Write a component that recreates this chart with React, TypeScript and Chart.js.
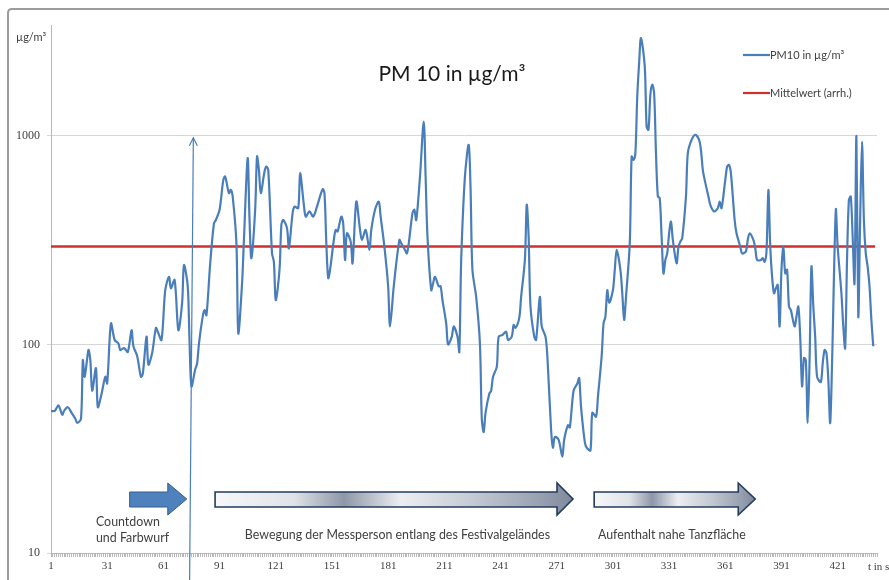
import React, { useEffect, useRef } from 'react';
import { Chart, registerables } from 'chart.js';

Chart.register(...registerables);

// ---- data ----
const chartTitle = 'PM 10 in µg/m³';
const seriesName = 'PM10 in µg/m³';
const meanName = 'Mittelwert (arrh.)';
const yUnit = 'µg/m³';
const xUnit = 't in s';

const seconds = [
  1, 3, 5, 7, 8, 10, 12, 14, 15, 17,
  18, 19, 21, 22, 23, 25, 26, 28, 30, 31,
  33, 35, 37, 38, 40, 42, 44, 45, 47, 49,
  50, 52, 53, 55, 57, 58, 60, 62, 64, 65,
  67, 69, 71, 72, 74, 75, 76, 78, 79, 80,
  82, 83, 84, 86, 88, 89, 91, 93, 94, 96,
  97, 98, 100, 101, 103, 104, 106, 107, 108, 110,
  111, 112, 113, 115, 116, 117, 119, 120, 121, 123,
  124, 125, 127, 128, 130, 131, 133, 134, 136, 137,
  139, 141, 143, 146, 147, 148, 149, 150, 152, 153,
  154, 156, 157, 158, 159, 161, 162, 164, 166, 167,
  169, 171, 172, 174, 176, 177, 179, 181, 182, 184,
  187, 188, 190, 191, 192, 194, 195, 196, 198, 200,
  201, 202, 204, 205, 206, 208, 209, 210, 212, 213,
  215, 216, 218, 219, 220, 222, 224, 225, 226, 228,
  230, 231, 232, 233, 235, 236, 237, 239, 240, 242,
  244, 245, 247, 248, 249, 251, 252, 254, 255, 256,
  257, 259, 260, 262, 263, 265, 266, 268, 269, 270,
  272, 274, 275, 277, 278, 280, 282, 283, 284, 286,
  287, 289, 290, 292, 293, 295, 296, 297, 298, 299,
  301, 302, 303, 305, 306, 307, 308, 310, 311, 312,
  313, 314, 315, 316, 318, 319, 320, 321, 322, 323,
  324, 325, 326, 327, 328, 329, 330, 331, 332, 333,
  335, 336, 337, 338, 340, 341, 343, 345, 347, 348,
  349, 350, 352, 353, 355, 357, 358, 359, 361, 362,
  363, 364, 366, 367, 369, 370, 372, 373, 374, 376,
  377, 378, 380, 381, 382, 383, 384, 385, 386, 387,
  388, 389, 390, 391, 392, 393, 394, 395, 396, 398,
  399, 400, 401, 402, 403, 404, 405, 406, 407, 408,
  409, 410, 412, 413, 414, 415, 416, 417, 418, 420,
  421, 423, 424, 425, 426, 427, 428, 429, 430, 431,
  432, 433, 434, 435, 436, 437, 438, 439, 440,
];

const pm10 = [
  48, 48, 51, 46, 48, 50, 47, 44, 42, 44,
  84, 70, 94, 84, 60, 77, 50, 58, 70, 65,
  126, 105, 101, 94, 96, 92, 117, 98, 88, 70,
  72, 109, 80, 91, 120, 115, 105, 182, 211, 186,
  204, 117, 158, 240, 190, 101, 63, 76, 81, 101,
  136, 146, 138, 245, 381, 395, 442, 615, 638, 531,
  551, 512, 305, 113, 196, 317, 782, 395, 259, 442,
  796, 687, 531, 675, 713, 687, 273, 249, 163, 228,
  374, 395, 361, 289, 426, 458, 450, 662, 467, 410,
  434, 410, 458, 555, 531, 305, 208, 228, 317, 354,
  348, 410, 381, 254, 341, 311, 245, 484, 354, 317,
  354, 284, 354, 442, 484, 410, 294, 190, 122, 190,
  317, 305, 284, 273, 305, 426, 442, 395, 638, 1171,
  638, 329, 182, 196, 211, 190, 190, 163, 126, 100,
  109, 122, 109, 92, 254, 638, 906, 561, 228, 169,
  101, 44, 38, 47, 58, 60, 70, 78, 109, 111,
  115, 105, 109, 124, 120, 134, 169, 254, 467, 329,
  152, 109, 105, 169, 122, 109, 88, 39, 32, 36,
  35, 29, 35, 41, 40, 60, 65, 69, 50, 34,
  32, 31, 47, 45, 56, 88, 126, 136, 182, 158,
  182, 228, 284, 228, 176, 131, 169, 305, 796, 767,
  826, 1545, 2234, 2944, 2153, 1108, 1069, 1574, 1759, 1603,
  826, 512, 503, 329, 219, 254, 273, 341, 388, 317,
  245, 294, 311, 323, 512, 826, 957, 1011, 957, 857,
  687, 615, 512, 467, 434, 450, 484, 450, 615, 713,
  726, 662, 395, 341, 294, 273, 279, 317, 341, 317,
  289, 254, 254, 259, 249, 279, 551, 294, 211, 176,
  186, 193, 122, 228, 294, 219, 228, 152, 146, 122,
  136, 152, 109, 63, 86, 84, 42, 84, 236, 152,
  109, 70, 66, 81, 94, 91, 68, 42, 81, 442,
  294, 176, 122, 96, 254, 493, 512, 329, 196, 997,
  136, 395, 939, 395, 273, 236, 190, 131, 98,
];

const meanValue = 295;
const meanSpan = [1, 441];

const xLabelValues = [1, 31, 61, 91, 121, 151, 181, 211, 241, 271, 301, 331, 361, 391, 421];
const xTickCount = 442;
const yTickValues = [10, 100, 1000];

const phaseLabels = {
  countdown: ['Countdown', 'und Farbwurf'],
  walk: 'Bewegung der Messperson entlang des Festivalgeländes',
  dance: 'Aufenthalt nahe Tanzfläche',
};

const BLUE = '#4a7ebb';
const RED = '#d0302c';
const TEXT = '#404040';

function arrowPath(ctx: CanvasRenderingContext2D, x0: number, x1: number, headLen: number, sTop: number, sBot: number, hTop: number, hBot: number) {
  const mid = (hTop + hBot) / 2;
  ctx.beginPath();
  ctx.moveTo(x0, sTop);
  ctx.lineTo(x1 - headLen, sTop);
  ctx.lineTo(x1 - headLen, hTop);
  ctx.lineTo(x1, mid);
  ctx.lineTo(x1 - headLen, hBot);
  ctx.lineTo(x1 - headLen, sBot);
  ctx.lineTo(x0, sBot);
  ctx.closePath();
}

const decorPlugin = {
  id: 'decor',
  afterDraw(chart: any) {
    const { ctx, chartArea } = chart;
    const xs = chart.scales.x;
    const ys = chart.scales.y;
    const bottom = chartArea.bottom;
    ctx.save();

    // outer frame
    ctx.strokeStyle = '#9c9c9c';
    ctx.lineWidth = 2;
    ctx.beginPath();
    ctx.moveTo(8, 600);
    ctx.lineTo(8, 13);
    ctx.quadraticCurveTo(8, 9, 12, 9);
    ctx.lineTo(900, 9);
    ctx.stroke();

    // y unit
    ctx.fillStyle = TEXT;
    ctx.textBaseline = 'middle';
    ctx.textAlign = 'left';
    ctx.font = '11px Lato';
    ctx.fillText(yUnit, 16, 37);

    // title
    ctx.font = '21px Lato';
    ctx.textAlign = 'center';
    ctx.fillStyle = '#1a1a1a';
    ctx.fillText(chartTitle, 452, 74);

    // legend
    ctx.lineWidth = 2.2;
    ctx.strokeStyle = BLUE;
    ctx.beginPath();
    ctx.moveTo(743, 55);
    ctx.lineTo(770, 55);
    ctx.stroke();
    ctx.strokeStyle = RED;
    ctx.beginPath();
    ctx.moveTo(743, 93);
    ctx.lineTo(770, 93);
    ctx.stroke();
    ctx.font = '11px Lato';
    ctx.textAlign = 'left';
    ctx.fillStyle = TEXT;
    ctx.fillText(seriesName, 770, 55);
    ctx.fillText(meanName, 770, 93);

    // vertical marker arrow at start of colour throw
    const vxBot = xs.getPixelForValue(75);
    const vxTop = xs.getPixelForValue(77);
    const vyTop = ys.getPixelForValue(1000) + 2;
    ctx.strokeStyle = BLUE;
    ctx.lineWidth = 1.2;
    ctx.beginPath();
    ctx.moveTo(vxBot, 580);
    ctx.lineTo(vxTop, vyTop);
    ctx.stroke();
    ctx.beginPath();
    ctx.moveTo(vxTop - 4, vyTop + 8);
    ctx.lineTo(vxTop, vyTop);
    ctx.lineTo(vxTop + 4, vyTop + 8);
    ctx.stroke();

    // phase arrows
    const sTop = bottom - 61;
    const sBot = bottom - 46;
    const hTop = bottom - 70;
    const hBot = bottom - 38;

    // solid blue arrow
    arrowPath(ctx, xs.getPixelForValue(43), xs.getPixelForValue(73.5), 19, sTop, sBot, hTop, hBot);
    ctx.fillStyle = '#4f81bd';
    ctx.fill();
    ctx.strokeStyle = '#385d8a';
    ctx.lineWidth = 1;
    ctx.stroke();

    const metal = (a: number, b: number, head: number) => {
      const g = ctx.createLinearGradient(a, 0, b, 0);
      g.addColorStop(0, '#f7f8fa');
      g.addColorStop(0.22, '#dfe2e7');
      g.addColorStop(0.36, '#8e97a8');
      g.addColorStop(0.52, '#eceef2');
      g.addColorStop(0.72, '#c5cad3');
      g.addColorStop(0.9, '#9aa3b2');
      g.addColorStop(1, '#7f899b');
      arrowPath(ctx, a, b, head, sTop, sBot, hTop, hBot);
      ctx.fillStyle = g;
      ctx.fill();
      ctx.strokeStyle = '#233c5e';
      ctx.lineWidth = 1.6;
      ctx.stroke();
    };
    metal(xs.getPixelForValue(88.6), xs.getPixelForValue(279.7), 16);
    metal(xs.getPixelForValue(291), xs.getPixelForValue(377), 17);

    // phase labels
    ctx.fillStyle = TEXT;
    ctx.font = '12.4px Lato';
    ctx.textAlign = 'left';
    ctx.fillText(phaseLabels.countdown[0], xs.getPixelForValue(25), bottom - 31);
    ctx.fillText(phaseLabels.countdown[1], xs.getPixelForValue(25), bottom - 15);
    ctx.fillText(phaseLabels.walk, xs.getPixelForValue(104.5), bottom - 18);
    ctx.fillText(phaseLabels.dance, xs.getPixelForValue(293), bottom - 18);

    // x unit
    ctx.font = '11px "Liberation Serif"';
    ctx.fillText(xUnit, 868, 567);

    ctx.restore();
  },
};

export default function App() {
  const ref = useRef<HTMLCanvasElement | null>(null);

  useEffect(() => {
    if (!ref.current) return;
    const chart = new Chart(ref.current, {
      type: 'line',
      data: {
        datasets: [
          {
            label: seriesName,
            data: seconds.map((s, i) => ({ x: s, y: pm10[i] })),
            borderColor: BLUE,
            borderWidth: 2.2,
            pointRadius: 0,
            tension: 0.3,
            fill: false,
          },
          {
            label: meanName,
            data: meanSpan.map((s) => ({ x: s, y: meanValue })),
            borderColor: RED,
            borderWidth: 2.5,
            pointRadius: 0,
            fill: false,
          },
        ],
      },
      options: {
        responsive: false,
        animation: false,
        devicePixelRatio: 1,
        layout: { padding: { left: 0, top: 25, right: 12, bottom: 0 } },
        plugins: {
          legend: { display: false },
          title: { display: false },
          tooltip: { enabled: false },
        },
        scales: {
          x: {
            type: 'linear',
            min: 1,
            max: xTickCount,
            afterBuildTicks: (s: any) => {
              const t = [];
              for (let v = 1; v <= xTickCount; v++) t.push({ value: v });
              s.ticks = t;
            },
            afterFit: (s: any) => {
              s.height = 27;
            },
            ticks: {
              autoSkip: false,
              maxRotation: 0,
              minRotation: 0,
              padding: 3,
              color: TEXT,
              font: { family: 'Liberation Serif', size: 11 },
              callback: (v: any) => (xLabelValues.includes(v) ? String(v) : ''),
            },
            grid: { drawOnChartArea: false, tickLength: 4, color: '#b8b8b8' },
            border: { color: '#b8b8b8' },
          },
          y: {
            type: 'logarithmic',
            min: 10,
            max: 3400,
            afterBuildTicks: (s: any) => {
              s.ticks = yTickValues.map((v) => ({ value: v }));
            },
            afterFit: (s: any) => {
              s.width = 51;
            },
            ticks: {
              padding: 7,
              color: TEXT,
              font: { family: 'Liberation Serif', size: 12 },
              callback: (v: any) => String(v),
            },
            grid: { color: '#d6d6d6', tickLength: 4 },
            border: { color: '#b8b8b8' },
          },
        },
      },
      plugins: [decorPlugin],
    } as any);
    return () => chart.destroy();
  }, []);

  return (
    <div style={{ position: 'absolute', left: 0, top: 0, width: 889, height: 580, background: '#fff' }}>
      <canvas ref={ref} width={889} height={580} style={{ display: 'block' }} />
    </div>
  );
}
